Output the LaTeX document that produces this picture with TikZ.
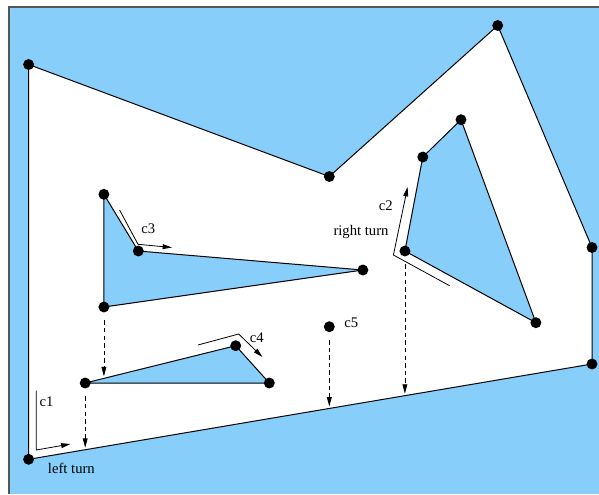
\documentclass[tikz,border=0pt]{standalone}
\usepackage{fontspec}
\setmainfont{Liberation Serif}
\usetikzlibrary{arrows.meta}
\definecolor{skyfill}{RGB}{135,206,250}
\definecolor{framegray}{RGB}{85,85,85}
\begin{document}
\begin{tikzpicture}[x=0.75pt,y=-0.75pt,
  dot/.style={circle,fill=black,inner sep=0pt,minimum size=8.2pt},
  edge/.style={draw=black,line width=0.75pt},
  hole/.style={edge,fill=skyfill},
  lbl/.style={inner sep=0pt,font=\fontsize{11}{13}\selectfont},
  tip/.style={-{Triangle[length=7pt,width=3.6pt]}},
  dasharrow/.style={tip,dash pattern=on 3.4pt off 2.3pt,line width=0.6pt,shorten <=10pt,shorten >=1.5pt},
  carrow/.style={tip,line width=0.6pt}]
\useasboundingbox (0,0) rectangle (599,494);
% background
\fill[skyfill] (9,7) rectangle (599,494);
\draw[framegray,line width=1pt] (9,494) -- (9,7) -- (599,7);
% geometry
\coordinate (p1) at (28.6,64.5);
\coordinate (p2) at (329.3,176.5);
\coordinate (p3) at (497.7,25.5);
\coordinate (p4) at (592,247.5);
\coordinate (p5) at (592,364);
\coordinate (p6) at (28.6,459.3);
\coordinate (a1) at (103.9,194.3);
\coordinate (a2) at (138.3,251);
\coordinate (a3) at (362.9,270);
\coordinate (a4) at (103.9,307);
\coordinate (b1) at (85.2,383);
\coordinate (b2) at (235.7,345.7);
\coordinate (b3) at (269.3,383);
\coordinate (q1) at (422.8,157);
\coordinate (q2) at (461,119.7);
\coordinate (q3) at (535.9,322.7);
\coordinate (q4) at (404.9,251);
\coordinate (c5) at (329.3,326.7);
% free ends of dashed arrows
\coordinate (hA) at (103.9,378.3);
\coordinate (hB) at (85.2,449.7);
\coordinate (hC) at (329.3,408.4);
\coordinate (hD) at (404.9,395.6);
% free space and obstacles
\path[edge,fill=white] (p1) -- (p2) -- (p3) -- (p4) -- (p5) -- (p6) -- cycle;
\path[hole] (a1) -- (a2) -- (a3) -- (a4) -- cycle;
\path[hole] (b1) -- (b2) -- (b3) -- cycle;
\path[hole] (q4) -- (q1) -- (q2) -- (q3) -- cycle;
% vertices
\foreach \v in {p1,p2,p3,p4,p5,p6,a1,a2,a3,a4,b1,b2,b3,q1,q2,q3,q4,c5}
  \node[dot] (d\v) at (\v) {};
% dashed projections
\draw[dasharrow] (a4) -- (hA);
\draw[dasharrow] (b1) -- (hB);
\draw[dasharrow] (c5) -- (hC);
\draw[dasharrow] (q4) -- (hD);
% contour arrows
\coordinate (c1s) at (36.3,390.7);
\coordinate (c1m) at (36.3,450);
\coordinate (c1e) at (70.5,444);
\draw[carrow] (c1s) -- (c1m) -- (c1e);
\coordinate (c3s) at (119.6,210);
\coordinate (c3m) at (138,244.3);
\coordinate (c3e) at (172,247.5);
\draw[carrow] (c3s) -- (c3m) -- (c3e);
\coordinate (c4s) at (197.9,345);
\coordinate (c4m) at (238.7,334);
\coordinate (c4e) at (262.4,357);
\draw[carrow] (c4s) -- (c4m) -- (c4e);
\coordinate (c2s) at (449.6,285.7);
\coordinate (c2m) at (393.4,255);
\coordinate (c2e) at (407.6,187);
\draw[carrow] (c2s) -- (c2m) -- (c2e);
% labels
\node[lbl] (l1) at (46.6,402) {c1};
\node[lbl] (l2) at (71.4,468) {left turn};
\node[lbl] (l3) at (148.2,229) {c3};
\node[lbl] (l4) at (256.7,338) {c4};
\node[lbl] (l5) at (385.8,205.5) {c2};
\node[lbl] (l6) at (361,232) {right turn};
\node[lbl] (l7) at (351.4,322.5) {c5};
\end{tikzpicture}
\end{document}
